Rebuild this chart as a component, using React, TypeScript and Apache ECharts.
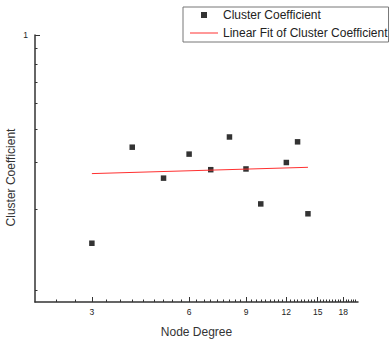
import React, { useEffect, useRef } from "react";
import * as echarts from "echarts";

const nodeDegree = [3, 4, 5, 6, 7, 8, 9, 10, 12, 13, 14];
const clusterCoef = [0.166, 0.38, 0.291, 0.358, 0.313, 0.415, 0.315, 0.233, 0.333, 0.398, 0.214];
const fitX = [3, 14];
const fitY = [0.3026, 0.3195];
const xMajorTicks = [3, 6, 9, 12, 15, 18];
const yMajorTicks = [1];
const X_MIN = 2;
const X_MAX = 20;
const Y_MIN = 0.1;
const Y_MAX = 1;

// minor ticks every 1/3 on x, every 1/9 on y (Origin-style)
const xMinorTicks: number[] = [];
for (let i = 7; i < 60; i++) if (i % 9 !== 0) xMinorTicks.push(i / 3);
const yMinorTicks: number[] = [];
for (let i = 1; i < 9; i++) yMinorTicks.push(i / 9);

const FONT = 'Arial, "Liberation Sans", sans-serif';
const AXIS_COLOR = "#333";

export default function App() {
  const ref = useRef<HTMLDivElement>(null);
  useEffect(() => {
    if (!ref.current) return;
    const chart = echarts.init(ref.current, null, { renderer: "svg" });
    chart.setOption({
      animation: false,
      backgroundColor: "#fff",
      textStyle: { fontFamily: FONT },
      grid: { left: 35, top: 35, right: 33, bottom: 37, containLabel: false, outerBoundsMode: "none" },
      legend: {
        orient: "vertical",
        left: 183,
        top: 7,
        padding: [2, 1, 3, 7],
        itemGap: 6,
        itemWidth: 28,
        itemHeight: 6,
        borderColor: "#777",
        borderWidth: 1,
        textStyle: { fontSize: 12, color: "#222", fontFamily: FONT },
        data: [
          { name: "Cluster Coefficient", icon: "path://M0,0H10V10H0Z" },
          { name: "Linear Fit of Cluster Coefficient", icon: "path://M0,0H28V1H0Z" },
        ],
      },
      xAxis: [
        {
          type: "log",
          logBase: 10,
          min: X_MIN,
          max: X_MAX,
          name: "Node Degree",
          nameLocation: "middle",
          nameGap: 24,
          nameMoveOverlap: false,
          nameTextStyle: { fontSize: 12, color: "#333", fontFamily: FONT },
          axisLine: { show: true, lineStyle: { color: AXIS_COLOR, width: 1.5 } },
          axisTick: { show: true, inside: true, length: 5, customValues: xMajorTicks, lineStyle: { color: AXIS_COLOR } },
          axisLabel: { show: true, customValues: xMajorTicks, fontSize: 8.5, color: "#222", margin: 5, fontFamily: FONT },
          splitLine: { show: false },
          minorTick: { show: false },
        },
        {
          type: "log",
          logBase: 10,
          min: X_MIN,
          max: X_MAX,
          position: "bottom",
          offset: 0,
          axisLine: { show: false },
          axisTick: { show: true, inside: true, length: 2.5, customValues: xMinorTicks, lineStyle: { color: AXIS_COLOR } },
          axisLabel: { show: false },
          splitLine: { show: false },
        },
      ],
      yAxis: [
        {
          type: "log",
          logBase: 10,
          min: Y_MIN,
          max: Y_MAX,
          name: "Cluster Coefficient",
          nameLocation: "middle",
          nameGap: 18,
          nameMoveOverlap: false,
          nameTextStyle: { fontSize: 12, color: "#333", fontFamily: FONT, padding: [0, 18, 0, 0] },
          axisLine: { show: true, lineStyle: { color: AXIS_COLOR, width: 1.5 } },
          axisTick: { show: true, inside: true, length: 5, customValues: yMajorTicks, lineStyle: { color: AXIS_COLOR } },
          axisLabel: { show: true, customValues: yMajorTicks, fontSize: 8.5, color: "#222", margin: 7, fontFamily: FONT },
          splitLine: { show: false },
        },
        {
          type: "log",
          logBase: 10,
          min: Y_MIN,
          max: Y_MAX,
          position: "left",
          offset: 0,
          axisLine: { show: false },
          axisTick: { show: true, inside: true, length: 2.5, customValues: yMinorTicks, lineStyle: { color: AXIS_COLOR } },
          axisLabel: { show: false },
          splitLine: { show: false },
        },
      ],
      series: [
        {
          name: "Cluster Coefficient",
          type: "scatter",
          xAxisIndex: 0,
          yAxisIndex: 0,
          symbol: "rect",
          symbolSize: 5.5,
          itemStyle: { color: "#000" },
          data: nodeDegree.map((x, i) => [x, clusterCoef[i]]),
        },
        {
          name: "Linear Fit of Cluster Coefficient",
          type: "line",
          xAxisIndex: 0,
          yAxisIndex: 0,
          symbol: "none",
          itemStyle: { color: "#ff3030" },
          lineStyle: { color: "#ff3030", width: 1 },
          data: fitX.map((x, i) => [x, fitY[i]]),
        },
      ],
    });
    return () => chart.dispose();
  }, []);
  return (
    <div
      ref={ref}
      style={{ position: "fixed", left: 0, top: 0, width: 391, height: 339, background: "#fff" }}
    />
  );
}
